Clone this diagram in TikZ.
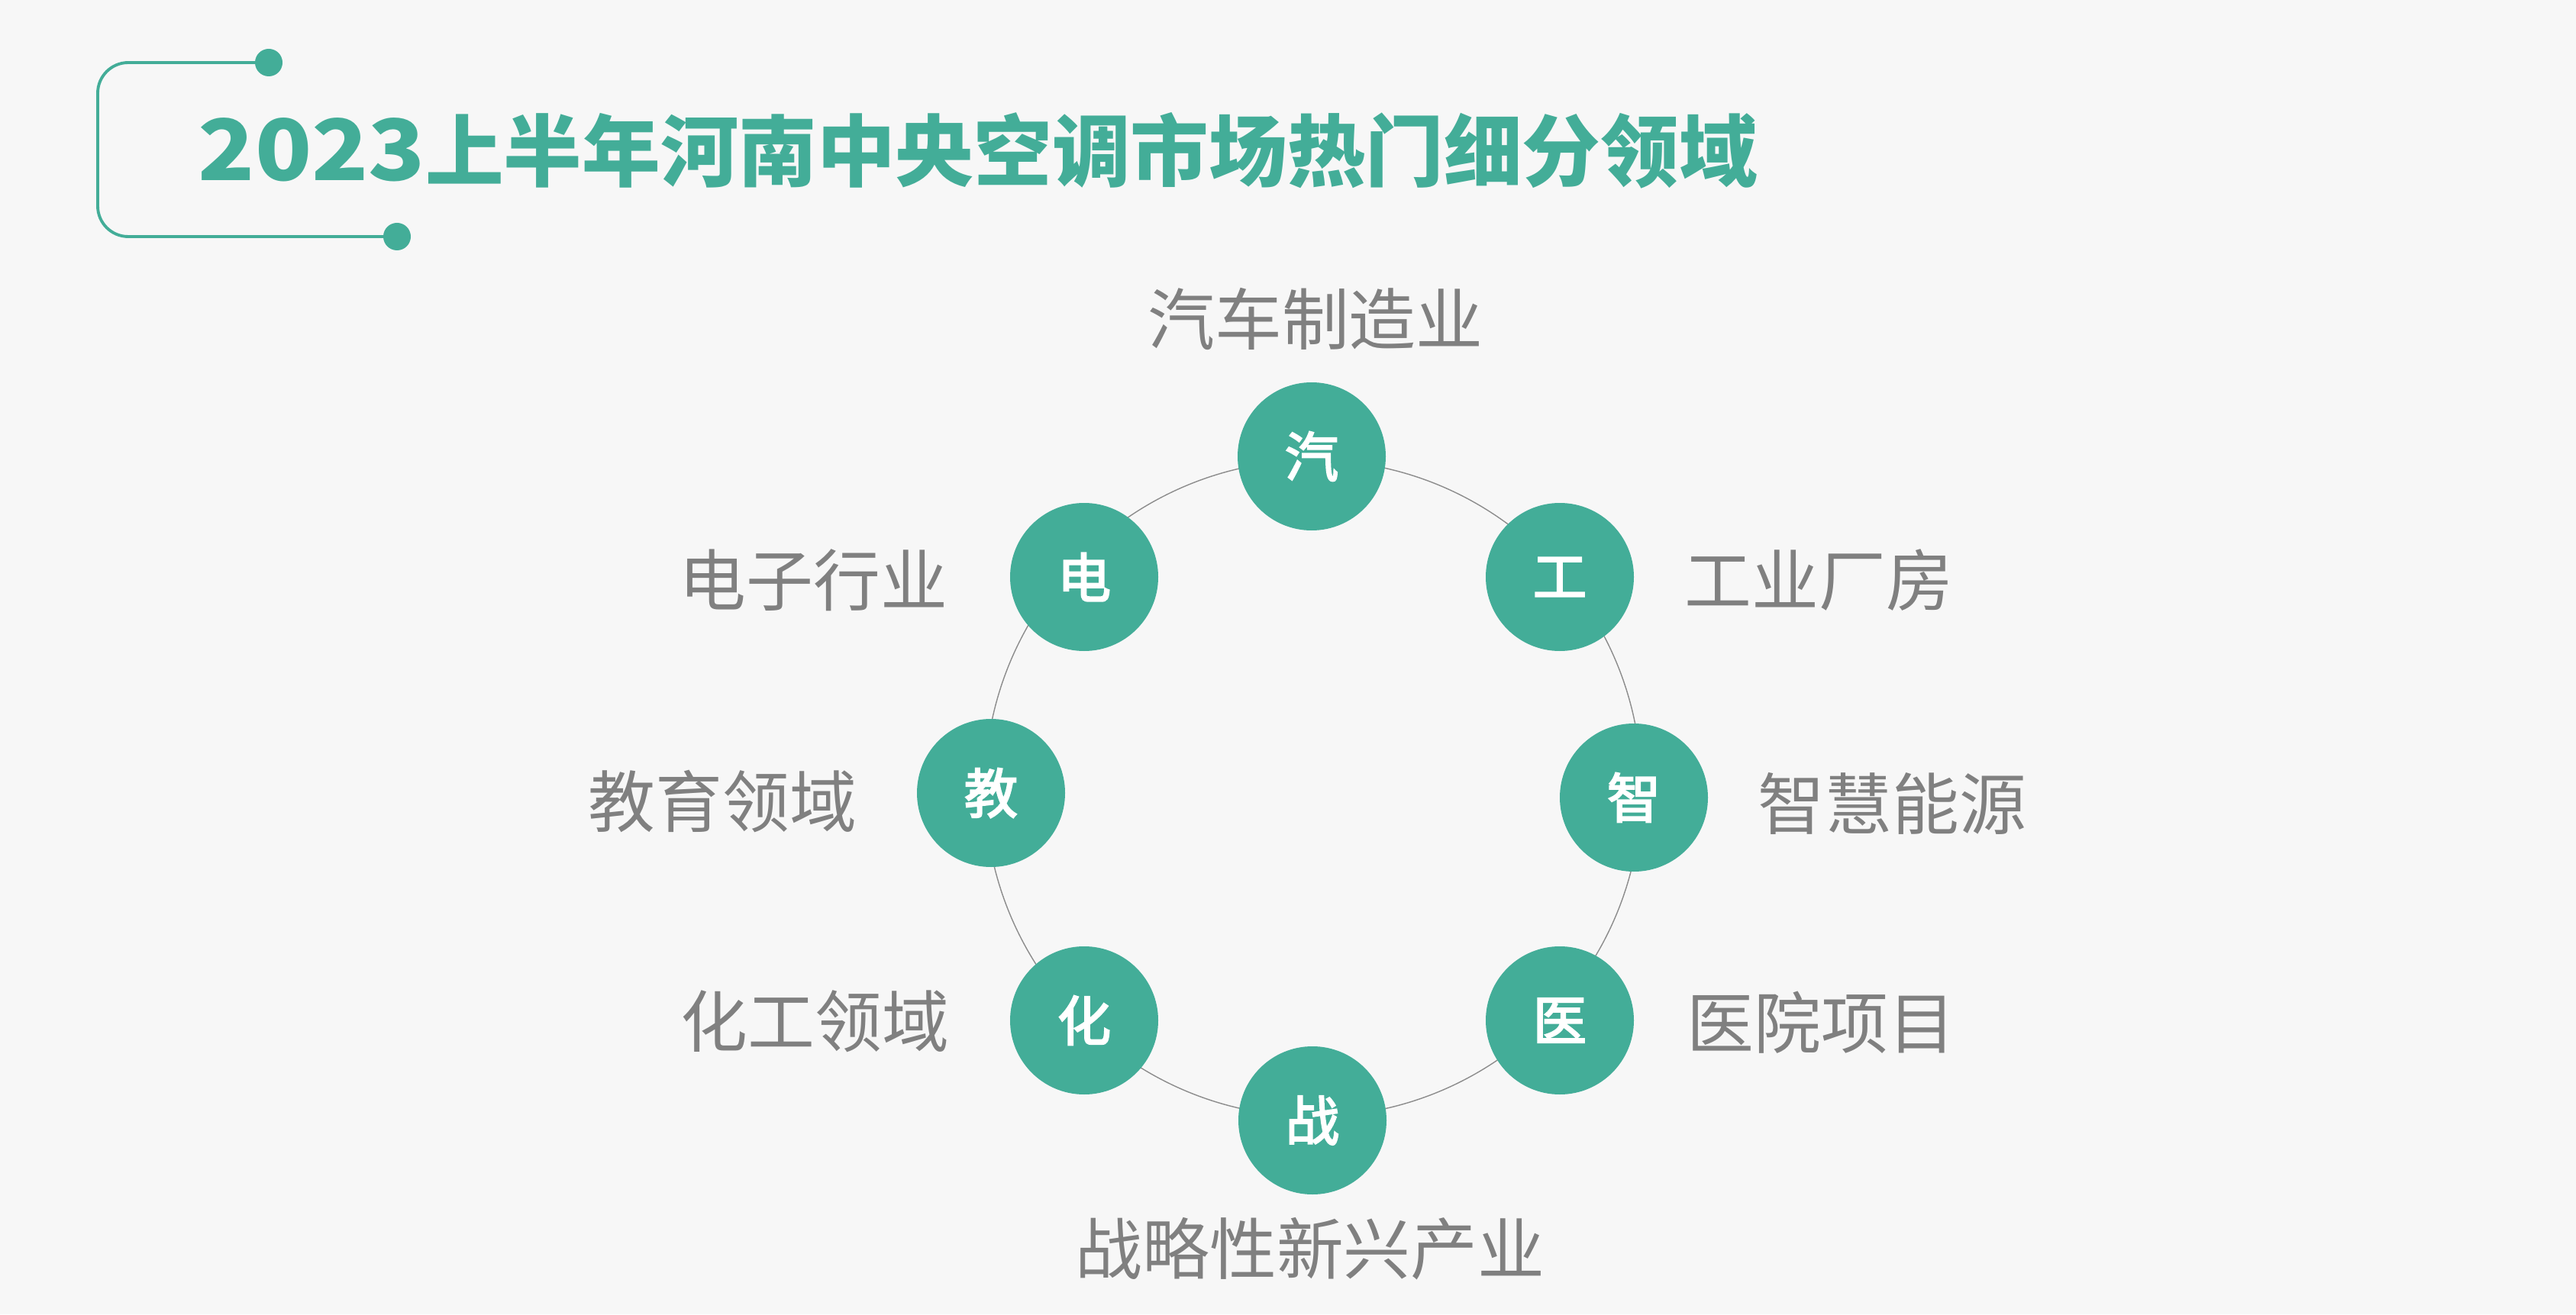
\documentclass[tikz,border=0pt]{standalone}
\usepackage{fontspec}
\usepackage{tikz}
\newfontfamily\cjk{Noto Sans CJK SC}
\newfontfamily\cjkzhong[FakeBold=3]{Noto Sans CJK SC}
\definecolor{qing}{HTML}{43AD98}
\definecolor{huise}{HTML}{808080}
\definecolor{xian}{HTML}{8C8C8C}
\definecolor{beijing}{HTML}{F7F7F7}

\begin{document}
\begin{tikzpicture}[
  yuan/.style={circle,fill=qing,minimum size=1.94cm,inner sep=0pt,text=white,
    font=\cjkzhong\fontsize{20}{20}\selectfont},
  biaoqian/.style={inner sep=0pt,text=huise,font=\cjk\fontsize{25}{25}\selectfont},
  yuandian/.style={circle,fill=qing,minimum size=0.36cm,inner sep=0pt}]
\fill[beijing] (0,0) rectangle (33.74,17.22);
\useasboundingbox (0,0) rectangle (33.74,17.22);
% title with bracket
\node[yuandian] (d1) at (3.52,16.40) {};
\node[yuandian] (d2) at (5.20,14.12) {};
\draw[qing,line width=1.1pt,rounded corners=0.4cm] (d1.center) -- (1.28,16.40) |- (d2.center);
\node[anchor=west,inner sep=0pt,text=qing,font=\cjk\bfseries\fontsize{29.2}{29.2}\selectfont]
  (title) at (2.59,15.25) {\scalebox{1.19}[1.08]{2023}上半年河南中央空调市场热门细分领域};
% ring
\coordinate (o) at (17.20,6.89);
\draw[xian,line width=0.4pt] (o) circle (4.30);
\node[yuan] (qi) at (17.18,11.24) {汽};
\node[yuan] (gong) at (20.43,9.66) {工};
\node[yuan] (zhi) at (21.40,6.77) {智};
\node[yuan] (yi) at (20.43,3.85) {医};
\node[yuan] (zhan) at (17.19,2.54) {战};
\node[yuan] (hua) at (14.20,3.85) {化};
\node[yuan] (jiao) at (12.98,6.83) {教};
\node[yuan] (dian) at (14.20,9.66) {电};
% labels
\node[biaoqian] (lqi) at (17.23,13.04) {汽车制造业};
\node[biaoqian,anchor=west] (lgong) at (22.06,9.62) {工业厂房};
\node[biaoqian,anchor=west] (lzhi) at (23.02,6.69) {智慧能源};
\node[biaoqian,anchor=west] (lyi) at (22.09,3.82) {医院项目};
\node[biaoqian] (lzhan) at (17.16,0.86) {战略性新兴产业};
\node[biaoqian,anchor=east] (lhua) at (12.44,3.84) {化工领域};
\node[biaoqian,anchor=east] (ljiao) at (11.23,6.72) {教育领域};
\node[biaoqian,anchor=east] (ldian) at (12.42,9.62) {电子行业};
\end{tikzpicture}
\end{document}
